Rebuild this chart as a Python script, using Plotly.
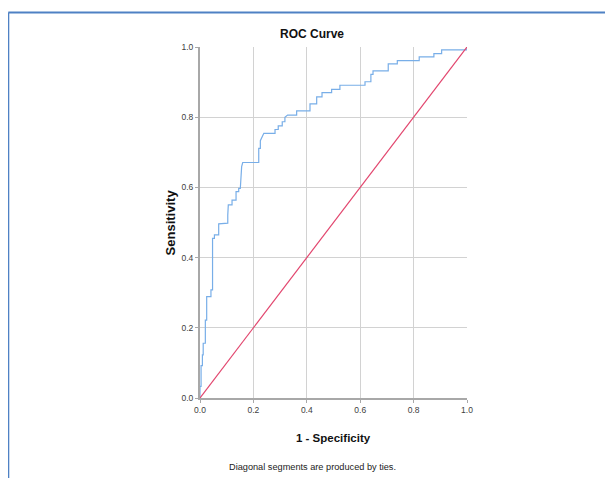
import plotly.graph_objects as go

# ROC curve vertices (1 - specificity, sensitivity)
fpr = [0.0, 0.0, 0.004, 0.004, 0.009, 0.009, 0.012, 0.012, 0.02, 0.02, 0.025, 0.025,
       0.033, 0.033, 0.041, 0.041, 0.047, 0.047, 0.054, 0.054, 0.07, 0.07, 0.091, 0.091,
       0.104, 0.104, 0.106, 0.12, 0.12, 0.135, 0.135, 0.145, 0.145, 0.151, 0.156, 0.16,
       0.22, 0.22, 0.226, 0.226, 0.232, 0.239, 0.281, 0.281, 0.293, 0.293, 0.308, 0.308,
       0.318, 0.318, 0.328, 0.362, 0.362, 0.412, 0.412, 0.437, 0.437, 0.457, 0.457,
       0.493, 0.493, 0.524, 0.524, 0.618, 0.618, 0.64, 0.64, 0.648, 0.648, 0.705, 0.705,
       0.739, 0.739, 0.821, 0.821, 0.876, 0.876, 0.905, 0.905, 1.0, 1.0]
tpr = [0.0, 0.033, 0.033, 0.092, 0.092, 0.123, 0.123, 0.156, 0.156, 0.222, 0.222, 0.289,
       0.289, 0.289, 0.289, 0.308, 0.308, 0.455, 0.455, 0.465, 0.465, 0.496, 0.496, 0.498,
       0.498, 0.521, 0.55, 0.55, 0.564, 0.564, 0.588, 0.588, 0.597, 0.597, 0.659, 0.671,
       0.671, 0.711, 0.711, 0.733, 0.744, 0.754, 0.754, 0.765, 0.765, 0.775, 0.775, 0.787,
       0.787, 0.8, 0.806, 0.806, 0.818, 0.818, 0.838, 0.838, 0.858, 0.858, 0.87,
       0.87, 0.879, 0.879, 0.891, 0.891, 0.901, 0.901, 0.922, 0.922, 0.932, 0.932, 0.952,
       0.952, 0.961, 0.961, 0.972, 0.972, 0.981, 0.981, 0.992, 0.992, 1.0]

# reference line
ref_x = [0.0, 1.0]
ref_y = [0.0, 1.0]

tick_vals = [0.0, 0.2, 0.4, 0.6, 0.8, 1.0]
tick_text = ["0.0", "0.2", "0.4", "0.6", "0.8", "1.0"]

title_text = "ROC Curve"
x_title = "1 - Specificity"
y_title = "Sensitivity"
footnote = "Diagonal segments are produced by ties."

FONT = "Liberation Sans, Arial, sans-serif"

fig = go.Figure()
fig.add_trace(go.Scatter(x=fpr, y=tpr, mode="lines",
                         line=dict(color="#78aee8", width=1.2), showlegend=False,
                         hoverinfo="skip"))
fig.add_trace(go.Scatter(x=ref_x, y=ref_y, mode="lines",
                         line=dict(color="#e2466e", width=1.2), showlegend=False,
                         hoverinfo="skip"))

axis_common = dict(
    range=[0, 1], tickmode="array", tickvals=tick_vals, ticktext=tick_text,
    showgrid=True, gridcolor="#d2d2d2", gridwidth=1,
    showline=True, linecolor="#a8a8a8", linewidth=2,
    ticks="outside", ticklen=3, tickcolor="#a8a8a8", tickwidth=1,
    tickfont=dict(family=FONT, size=8.5, color="#404040"),
    zeroline=False, fixedrange=True,
)

fig.update_layout(
    width=605, height=470,
    margin=dict(l=192, r=146, t=39, b=80, pad=0),
    paper_bgcolor="white", plot_bgcolor="white",
    xaxis=dict(**axis_common),
    yaxis=dict(**axis_common),
    shapes=[
        dict(type="line", xref="paper", yref="paper", x0=-0.718, x1=-0.718, y0=1.098, y1=-0.35,
             line=dict(color="#4f81c4", width=2)),
        dict(type="line", xref="paper", yref="paper", x0=-0.718, x1=1.6, y0=1.098, y1=1.098,
             line=dict(color="#4f81c4", width=2)),
    ],
    annotations=[
        dict(text="<b>" + title_text + "</b>", xref="paper", yref="paper", x=0.4195, y=1.037,
             showarrow=False, xanchor="center", yanchor="middle",
             font=dict(family=FONT, size=12, color="#111111")),
        dict(text="<b>" + x_title + "</b>", xref="paper", yref="paper", x=0.5, y=-0.114,
             showarrow=False, xanchor="center", yanchor="middle",
             font=dict(family=FONT, size=11.5, color="#111111")),
        dict(text="<b>" + y_title + "</b>", xref="paper", yref="paper", x=-0.109, y=0.5,
             showarrow=False, xanchor="center", yanchor="middle", textangle=-90,
             font=dict(family=FONT, size=13, color="#111111")),
        dict(text=footnote, xref="paper", yref="paper", x=0.4195, y=-0.1966,
             showarrow=False, xanchor="center", yanchor="middle",
             font=dict(family=FONT, size=9.2, color="#222222")),
    ],
)

fig.write_html("out.html")
